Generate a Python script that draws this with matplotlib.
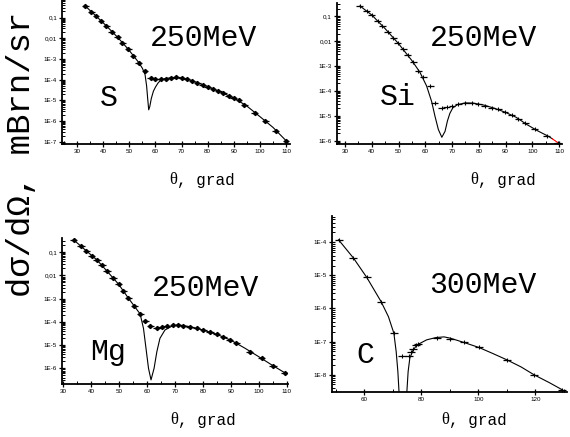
import numpy as np
import matplotlib
matplotlib.use("Agg")
import matplotlib.pyplot as plt
from matplotlib.ticker import FixedLocator, LogLocator, NullFormatter, MultipleLocator

# ---- S, 250 MeV
s_theta = [33.1, 35.4, 37.2, 39.1, 41.2, 43.3, 45.5, 47.3, 49.6, 51.4, 53.6, 56.0,
           58.1, 60.0, 62.0, 64.0, 66.0, 68.0, 70.0, 72.0, 74.0, 76.0, 78.0, 80.0,
           82.0, 84.0, 86.0, 88.0, 90.0, 92.0, 94.0, 98.0, 102.0, 106.0, 110.0]
s_log = [-0.44, -0.71, -0.92, -1.15, -1.40, -1.68, -1.95, -2.21, -2.53, -2.85, -3.17, -3.56,
         -3.93, -3.98, -3.97, -3.95, -3.90, -3.88, -3.90, -3.96, -4.06, -4.14, -4.23, -4.33,
         -4.45, -4.55, -4.66, -4.77, -4.88, -5.00, -5.22, -5.62, -5.99, -6.46, -6.94]
s_fit_theta = [33.1, 37.2, 41.2, 45.5, 49.6, 53.6, 55.0, 56.0, 56.6, 57.0, 57.4, 57.8,
               58.4, 59.2, 60.0, 61.0, 62.0, 63.5, 66.0, 68.0, 72.0, 76.0, 80.0, 85.0,
               90.0, 95.0, 100.0, 105.0, 110.0]
s_fit_log = [-0.44, -0.92, -1.40, -1.95, -2.53, -3.17, -3.45, -3.75, -4.30, -4.90, -5.45, -5.30,
             -4.90, -4.55, -4.35, -4.15, -4.02, -3.95, -3.90, -3.88, -3.96, -4.14, -4.33, -4.60,
             -4.88, -5.27, -5.78, -6.30, -6.94]

# ---- Si, 250 MeV
si_theta = [35.6, 38.1, 40.0, 42.2, 44.0, 46.0, 48.1, 49.7, 51.8, 53.4, 55.5, 57.4,
            59.3, 61.8, 63.5, 66.2, 68.0, 70.0, 72.4, 74.9, 77.4, 79.9, 82.3, 84.8,
            87.3, 89.8, 92.3, 94.8, 97.3, 101.0, 105.4, 109.6]
si_log = [-0.59, -0.78, -0.96, -1.19, -1.41, -1.64, -1.87, -2.09, -2.32, -2.55, -2.82, -3.18,
          -3.45, -3.80, -4.50, -4.67, -4.64, -4.59, -4.54, -4.50, -4.50, -4.54, -4.59, -4.67,
          -4.73, -4.84, -4.97, -5.11, -5.27, -5.52, -5.79, -6.08]
si_fit_theta = [35.6, 40.0, 45.0, 50.0, 55.0, 58.0, 60.5, 62.4, 63.6, 64.9, 66.2, 67.4,
                68.3, 69.2, 70.3, 72.0, 75.0, 78.0, 82.0, 86.0, 90.0, 94.0, 98.0, 102.0,
                106.0, 107.5, 109.6]
si_fit_log = [-0.59, -0.95, -1.50, -2.10, -2.78, -3.25, -3.80, -4.43, -5.00, -5.55, -5.86, -5.62,
              -5.20, -4.90, -4.68, -4.55, -4.48, -4.49, -4.57, -4.70, -4.86, -5.06, -5.35, -5.60,
              -5.82, -5.92, -6.08]
si_red_from = 25  # last bit of the curve is drawn red

# ---- Mg, 250 MeV
mg_theta = [33.7, 36.3, 38.2, 40.2, 42.0, 43.8, 45.6, 47.8, 49.8, 51.5, 53.3, 55.4,
            57.5, 59.3, 61.1, 63.5, 65.2, 67.0, 69.4, 71.0, 73.0, 75.4, 77.8, 80.1,
            82.5, 84.9, 87.3, 89.6, 92.0, 96.8, 101.0, 105.1, 109.3]
mg_log = [-0.47, -0.72, -0.94, -1.15, -1.33, -1.55, -1.81, -2.09, -2.38, -2.67, -2.98, -3.30,
          -3.66, -3.96, -4.18, -4.25, -4.21, -4.16, -4.13, -4.13, -4.16, -4.21, -4.28, -4.35,
          -4.45, -4.53, -4.64, -4.78, -4.92, -5.28, -5.57, -5.89, -6.19]
mg_fit_theta = [33.7, 38.2, 42.0, 45.6, 49.8, 53.3, 57.5, 58.7, 59.6, 60.5, 61.4, 62.5,
                63.5, 64.6, 66.4, 68.8, 71.0, 75.0, 80.0, 85.0, 90.0, 95.0, 100.0, 105.0, 109.3]
mg_fit_log = [-0.47, -0.94, -1.33, -1.81, -2.38, -2.98, -3.66, -4.28, -5.14, -6.00, -6.50, -6.00,
              -5.28, -4.71, -4.35, -4.19, -4.13, -4.20, -4.35, -4.54, -4.79, -5.13, -5.50, -5.88, -6.19]

# ---- C, 300 MeV
c_theta = [51.0, 56.2, 60.9, 65.9, 70.4, 73.4, 75.8, 76.5, 77.2, 78.0, 78.7,
           85.4, 90.2, 95.0, 100.2, 109.9, 119.6, 129.4]
c_log = [-3.92, -4.47, -5.06, -5.79, -6.75, -7.43, -7.43, -7.32, -7.22, -7.12, -7.08,
         -6.88, -6.92, -7.03, -7.18, -7.55, -8.01, -8.46]
c_fit_theta = [51.0, 56.2, 60.9, 65.9, 68.5, 70.4, 71.2, 71.8, 72.2, 72.5,
               74.6, 74.9, 75.4, 76.0, 77.2, 78.6, 81.9, 85.2, 88.0, 90.2, 95.0,
               100.2, 105.0, 109.9, 115.0, 119.6, 125.0, 129.4]
c_fit_log = [-3.92, -4.47, -5.06, -5.79, -6.25, -6.75, -7.30, -7.91, -8.52, -9.50,
             -9.50, -8.60, -7.91, -7.50, -7.25, -7.10, -6.95, -6.88, -6.86, -6.90, -7.03,
             -7.18, -7.36, -7.55, -7.77, -8.01, -8.25, -8.46]

tick_names = {-1: "0,1", -2: "0,01", -3: "1E-3", -4: "1E-4", -5: "1E-5",
              -6: "1E-6", -7: "1E-7", -8: "1E-8"}

W, H = 570, 437
fig = plt.figure(figsize=(W / 100, H / 100), dpi=100)
mono = "Liberation Mono"


def rect(x0, y0, x1, y1):
    # pixel box -> figure fraction
    return [x0 / W, 1 - y1 / H, (x1 - x0) / W, (y1 - y0) / H]


def panel(box, xlim, ylog, xmajor, decades, theta, lg, fth, flg, thick=True, xerr=1.3, red_from=None):
    ax = fig.add_axes(rect(*box))
    y = 10.0 ** np.array(lg)
    fy = 10.0 ** np.array(flg)
    if red_from is None:
        ax.plot(fth, fy, color="black", lw=0.8, zorder=2)
    else:
        ax.plot(fth[:red_from + 1], fy[:red_from + 1], color="black", lw=0.8, zorder=2)
        ax.plot(fth[red_from:], fy[red_from:], color="red", lw=0.8, zorder=2)
    if thick:
        ax.errorbar(theta, y, xerr=xerr, fmt="D", ms=2.1, color="black", mec="black",
                    elinewidth=0.9, capsize=0, zorder=3)
    else:
        ax.errorbar(theta, y, xerr=xerr, fmt="|", ms=3.5, color="black", mew=0.8,
                    elinewidth=0.9, capsize=0, zorder=3)
    ax.set_yscale("log")
    ax.set_xlim(*xlim)
    ax.set_ylim(10.0 ** ylog[0], 10.0 ** ylog[1])
    ax.yaxis.set_major_locator(FixedLocator([10.0 ** d for d in decades]))
    ax.set_yticklabels([tick_names[d] for d in decades])
    ax.yaxis.set_minor_locator(LogLocator(base=10, subs=np.arange(2, 10) * 1.0, numticks=20))
    ax.yaxis.set_minor_formatter(NullFormatter())
    ax.xaxis.set_major_locator(MultipleLocator(xmajor))
    ax.xaxis.set_minor_locator(MultipleLocator(xmajor / 2))
    for s in ("top", "right"):
        ax.spines[s].set_visible(False)
    for s in ("left", "bottom"):
        ax.spines[s].set_linewidth(1.3)
    ax.tick_params(which="major", direction="inout", length=4, width=0.9, labelsize=4.5, pad=1.5)
    ax.tick_params(which="minor", direction="in", length=2, width=0.7)
    for lab in ax.get_xticklabels() + ax.get_yticklabels():
        lab.set_family("Liberation Sans")
    ax.patch.set_alpha(0)
    return ax


panel((62, 0, 290, 144), (24.2, 111.5), (-7.10, -0.15), 10, [-1, -2, -3, -4, -5, -6, -7],
      s_theta, s_log, s_fit_theta, s_fit_log)
panel((336.7, 3, 561.7, 144), (26.9, 111.0), (-6.13, -0.47), 10, [-1, -2, -3, -4, -5, -6],
      si_theta, si_log, si_fit_theta, si_fit_log, thick=False, red_from=si_red_from)
panel((62, 238.3, 288.3, 384.3), (29.5, 110.6), (-6.69, -0.40), 10, [-1, -2, -3, -4, -5, -6],
      mg_theta, mg_log, mg_fit_theta, mg_fit_log)
panel((331.7, 216, 566.7, 391.7), (48.6, 131.0), (-8.52, -3.2), 20, [-4, -5, -6, -7, -8],
      c_theta, c_log, c_fit_theta, c_fit_log, thick=False, xerr=1.4)


def ftext(x, y, s, size, **kw):
    kw.setdefault("ha", "center")
    kw.setdefault("family", mono)
    fig.text(x / W, 1 - y / H, s, fontsize=size, va="center", **kw)


def theta_label(xc, y):
    # serif theta followed by monospace ", grad"
    split = xc - 24
    ftext(split, y, "θ", 12, ha="right", family="Liberation Serif")
    ftext(split, y, ", grad", 11.5, ha="left")


ftext(204, 38, "250MeV", 21.5)
ftext(484, 38, "250MeV", 21.5)
ftext(206, 288, "250MeV", 21.5)
ftext(483, 285, "300MeV", 21.5)
ftext(109, 98, "S", 21.5)
ftext(398, 97, "Si", 21.5)
ftext(108, 352, "Mg", 21.5)
ftext(365, 355, "C", 21.5)
theta_label(201, 180)
theta_label(502, 180)
theta_label(202, 420)
theta_label(473, 420)
ftext(22, 154, "dσ/dΩ, mBrn/sr", 24.5, rotation=90)

fig.savefig("out.png", dpi=100)
